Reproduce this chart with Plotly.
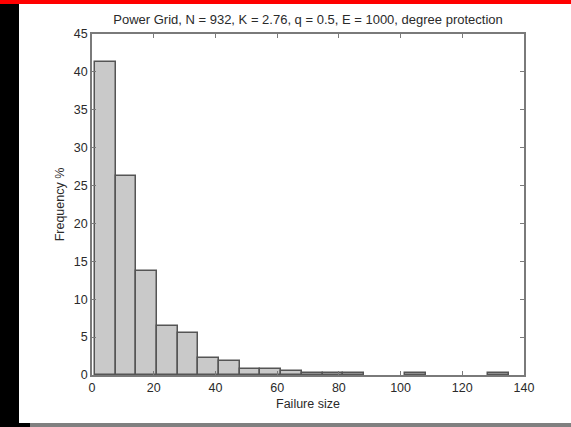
import plotly.graph_objects as go

# Data
bin_centers = [4.35, 11.05, 17.75, 24.45, 31.15, 37.85, 44.55, 51.25, 57.95, 64.65,
               71.35, 78.05, 84.75, 91.45, 98.15, 104.85, 111.55, 118.25, 124.95, 131.65]
bin_width = 6.7
frequency = [41.3, 26.3, 13.7, 6.5, 5.5, 2.3, 1.8, 0.8, 0.8, 0.5,
             0.2, 0.2, 0.2, 0.0, 0.0, 0.2, 0.0, 0.0, 0.0, 0.2]
x_ticks = [0, 20, 40, 60, 80, 100, 120, 140]
y_ticks = [0, 5, 10, 15, 20, 25, 30, 35, 40, 45]

title_text = "Power Grid, N = 932, K = 2.76, q = 0.5, E = 1000, degree protection"

FONT = "Liberation Sans, Arial, sans-serif"
AXC = "#7a7a7a"
TXT = "#2a2a2a"

# empty bins are not drawn (MATLAB shows nothing above the axis there)
shown = [(c, f) for c, f in zip(bin_centers, frequency) if f > 0]

fig = go.Figure()
fig.add_trace(go.Bar(
    x=[c for c, _ in shown], y=[f for _, f in shown], width=[bin_width] * len(shown),
    marker=dict(color="#c9c9c9", line=dict(color="#555555", width=1.5)),
    showlegend=False,
))

W, H = 571, 427
L, R, T, B = 92, 47, 34, 52
pw, ph = W - L - R, H - T - B

def px_x(p):
    return (p - L) / pw

def px_y(p):
    return 1 - (p - T) / ph

shapes = [
    dict(type="rect", xref="paper", yref="paper", x0=px_x(0), x1=px_x(W),
         y0=px_y(0), y1=px_y(4), fillcolor="#ff0000", line=dict(width=0), layer="above"),
    dict(type="rect", xref="paper", yref="paper", x0=px_x(0), x1=px_x(19),
         y0=px_y(4), y1=px_y(H), fillcolor="#000000", line=dict(width=0), layer="above"),
    dict(type="rect", xref="paper", yref="paper", x0=px_x(0), x1=px_x(30),
         y0=px_y(423), y1=px_y(H), fillcolor="#000000", line=dict(width=0), layer="above"),
    dict(type="rect", xref="paper", yref="paper", x0=px_x(30), x1=px_x(W),
         y0=px_y(423), y1=px_y(H), fillcolor="#808080", line=dict(width=0), layer="above"),
]

axis_common = dict(
    showline=True, linecolor=AXC, linewidth=1.5, mirror="ticks",
    ticks="inside", ticklen=4, tickcolor=AXC, tickwidth=1,
    showgrid=False, zeroline=False,
    tickfont=dict(family=FONT, size=12.5, color=TXT),
)

fig.update_layout(
    width=W, height=H,
    margin=dict(l=L, r=R, t=T, b=B),
    paper_bgcolor="white", plot_bgcolor="white",
    bargap=0,
    title=dict(text=title_text, x=0.5, xanchor="center", xref="paper",
               y=1 - 19 / H, yanchor="middle",
               font=dict(family=FONT, size=13, color=TXT)),
    xaxis=dict(range=[0, 140], tickvals=x_ticks, ticktext=[str(v) for v in x_ticks],
               title=dict(text="Failure size", standoff=5,
                          font=dict(family=FONT, size=12.5, color=TXT)),
               **axis_common),
    yaxis=dict(range=[0, 45], tickvals=y_ticks, ticktext=[str(v) for v in y_ticks],
               title=dict(text="Frequency %", standoff=6,
                          font=dict(family=FONT, size=12.5, color=TXT)),
               **axis_common),
    shapes=shapes,
)

fig.write_html("out.html")
